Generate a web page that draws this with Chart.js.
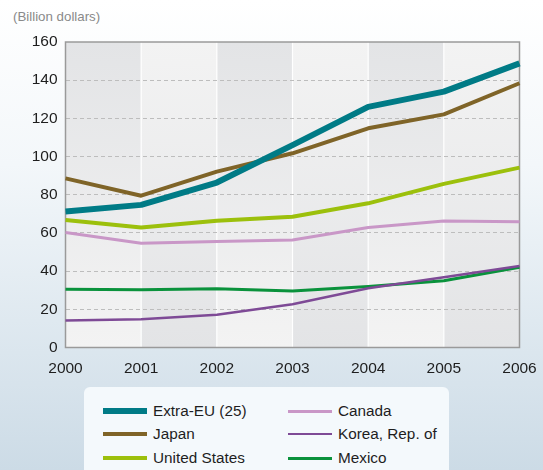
<!DOCTYPE html>
<html>
<head>
<meta charset="utf-8">
<script src="https://cdn.jsdelivr.net/npm/chart.js@4.4.1/dist/chart.umd.min.js"></script>
<style>
  html, body { margin: 0; padding: 0; }
  body {
    width: 543px; height: 470px; overflow: hidden; position: relative;
    background: linear-gradient(to bottom, #ffffff 0%, #f3f7fa 35%, #dbe6ee 75%, #ccdbe6 100%);
    font-family: "Liberation Sans", Arial, sans-serif;
  }
  #unit { position: absolute; left: 13px; top: 9px; font-size: 13.3px; color: #8a8a8a; }
  #wrap { position: absolute; left: 0; top: 0; width: 543px; height: 470px; }
  #legend {
    position: absolute; left: 84px; top: 387px; width: 365px; height: 100px;
    background: #f4f9fc; border-radius: 6px;
  }
  .item { position: absolute; height: 20px; font-size: 15.3px; color: #1e1e1e; line-height: 20px; }
  .item .sw { position: absolute; left: 0; width: 44px; }
  .item .tx { position: absolute; left: 50px; white-space: nowrap; }
</style>
</head>
<body>
<div id="unit">(Billion dollars)</div>
<div id="wrap"><canvas id="chart" width="543" height="470"></canvas></div>
<div id="legend"></div>
<script>
const years = ['2000', '2001', '2002', '2003', '2004', '2005', '2006'];
const extraEU = [71.2, 74.7, 86.4, 106, 126, 134, 148.8];
const japan = [88.6, 79.5, 92.1, 101.7, 114.8, 122.1, 138.4];
const unitedStates = [66.8, 62.8, 66.4, 68.5, 75.5, 85.7, 94.2];
const canada = [60.2, 54.6, 55.5, 56.3, 62.8, 66.3, 65.8];
const korea = [14.1, 14.8, 17.1, 22.7, 31.0, 36.8, 42.7];
const mexico = [30.5, 30.2, 30.8, 29.6, 31.9, 35.0, 42.0];

const series = [
  { label: 'Extra-EU (25)', data: extraEU, color: '#007b86', width: 6 },
  { label: 'Japan', data: japan, color: '#7f6428', width: 4 },
  { label: 'United States', data: unitedStates, color: '#9cc00c', width: 4 },
  { label: 'Canada', data: canada, color: '#c997c7', width: 3 },
  { label: 'Korea, Rep. of', data: korea, color: '#7e4a96', width: 2.5 },
  { label: 'Mexico', data: mexico, color: '#0a923c', width: 3 }
];

// striped plot background, white year lines and frame
const plotBg = {
  id: 'plotBg',
  beforeDraw(chart) {
    const { ctx, chartArea: a, scales: { x } } = chart;
    ctx.save();
    for (let i = 0; i < years.length - 1; i++) {
      const x0 = x.getPixelForValue(i), x1 = x.getPixelForValue(i + 1);
      const g = ctx.createLinearGradient(0, a.top, 0, a.bottom);
      const dark = '#e3e4e6', light = '#f3f3f3';
      if (i % 2 === 0) { g.addColorStop(0, dark); g.addColorStop(1, light); }
      else { g.addColorStop(0, light); g.addColorStop(1, dark); }
      ctx.fillStyle = g;
      ctx.fillRect(x0, a.top, x1 - x0, a.bottom - a.top);
    }
    ctx.strokeStyle = '#ffffff';
    ctx.lineWidth = 1.2;
    for (let i = 1; i < years.length - 1; i++) {
      const px = x.getPixelForValue(i);
      ctx.beginPath(); ctx.moveTo(px, a.top); ctx.lineTo(px, a.bottom); ctx.stroke();
    }
    ctx.restore();
  },
  beforeDatasetsDraw(chart) {
    const { ctx, chartArea: a } = chart;
    ctx.save();
    ctx.strokeStyle = '#9a9a9a';
    ctx.lineWidth = 1.5;
    ctx.strokeRect(a.left, a.top, a.right - a.left, a.bottom - a.top);
    ctx.restore();
  }
};

new Chart(document.getElementById('chart'), {
  type: 'line',
  data: {
    labels: years,
    datasets: series.map(s => ({
      label: s.label, data: s.data, borderColor: s.color, borderWidth: s.width,
      pointRadius: 0, tension: 0, fill: false, borderJoinStyle: 'round'
    }))
  },
  options: {
    responsive: false,
    animation: false,
    layout: { padding: { top: 42, right: 23.5, left: 0, bottom: 0 } },
    plugins: { legend: { display: false }, tooltip: { enabled: false } },
    scales: {
      x: {
        offset: false,
        grid: { display: false },
        border: { display: false },
        ticks: { color: '#1e1e1e', font: { family: 'Liberation Sans', size: 15.5 }, padding: 4, maxRotation: 0 },
        afterFit(s) { s.height = 122.5; }
      },
      y: {
        min: 0, max: 160,
        border: { display: false, dash: [4, 3] },
        grid: {
          drawTicks: false,
          color: c => (c.tick.value === 0 || c.tick.value === 160) ? 'rgba(0,0,0,0)' : '#bdbdbd',
          lineWidth: 1
        },
        ticks: { stepSize: 20, color: '#1e1e1e', font: { family: 'Liberation Sans', size: 15.5 }, padding: 8 },
        afterFit(s) { s.width = 65.5; }
      }
    }
  },
  plugins: [plotBg]
});

// legend in two columns
const legend = document.getElementById('legend');
const rowsTop = [14, 37, 61];
const colsLeft = [19, 204];
series.forEach((s, i) => {
  const col = Math.floor(i / 3), row = i % 3;
  const item = document.createElement('div');
  item.className = 'item';
  item.style.left = colsLeft[col] + 'px';
  item.style.top = rowsTop[row] + 'px';
  const sw = document.createElement('div');
  sw.className = 'sw';
  sw.style.background = s.color;
  sw.style.height = s.width + 'px';
  sw.style.top = (10 - s.width / 2) + 'px';
  const tx = document.createElement('div');
  tx.className = 'tx';
  tx.textContent = s.label;
  item.appendChild(sw);
  item.appendChild(tx);
  legend.appendChild(item);
});
</script>
</body>
</html>
